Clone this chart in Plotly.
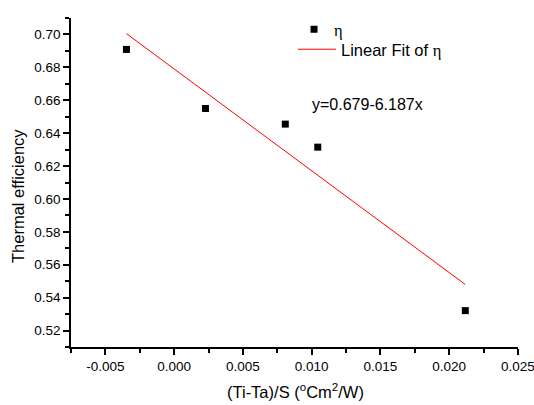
import plotly.graph_objects as go

# data
x_vals = [-0.00347, 0.00228, 0.00808, 0.01044, 0.02117]
eta_vals = [0.6909, 0.6550, 0.6455, 0.6315, 0.5321]
fit_x = [-0.00347, 0.02117]
fit_y = [0.7005, 0.5480]
equation_text = "y=0.679-6.187x"
x_tick_vals = [-0.005, 0.0, 0.005, 0.010, 0.015, 0.020, 0.025]
x_tick_text = ["-0.005", "0.000", "0.005", "0.010", "0.015", "0.020", "0.025"]

FONT = "Liberation Sans, Arial, sans-serif"
ETA = '<span style="font-family:Liberation Serif, Times New Roman, serif">η</span>'

fig = go.Figure()
fig.add_trace(go.Scatter(
    x=x_vals, y=eta_vals, mode="markers", name=ETA, legend="legend",
    marker=dict(symbol="square", size=7, color="black"),
))
fig.add_trace(go.Scatter(
    x=fit_x, y=fit_y, mode="lines", name="Linear Fit of " + ETA, legend="legend2",
    line=dict(color="red", width=1),
))

axis_common = dict(
    showgrid=False, zeroline=False, showline=True, linecolor="black", linewidth=1.5,
    ticks="outside", ticklen=6, tickwidth=1.5, tickcolor="black",
    tickfont=dict(family=FONT, size=13.5, color="black"),
    mirror=False, ticklabeloverflow="allow", automargin=False,
)
fig.update_xaxes(
    range=[-0.007501, 0.025001], tickmode="array", tickvals=x_tick_vals, ticktext=x_tick_text,
    minor=dict(ticks="outside", ticklen=4, tickwidth=1.5, tickcolor="black", dtick=0.0025, tick0=0),
    **axis_common,
)
fig.update_yaxes(
    range=[0.50999, 0.71001], tick0=0.5, dtick=0.02, tickformat=".2f",
    minor=dict(ticks="outside", ticklen=4, tickwidth=1.5, tickcolor="black", dtick=0.01, tick0=0.5),
    **axis_common,
)

fig.add_annotation(
    x=0.0099, y=0.6572, xref="x", yref="y", xanchor="left", yanchor="middle",
    text=equation_text, showarrow=False, font=dict(family=FONT, size=16, color="black"),
)
fig.add_annotation(
    x=-0.1186, y=0.459, xref="paper", yref="paper", xanchor="center", yanchor="middle",
    text="Thermal efficiency", textangle=-90, showarrow=False,
    font=dict(family=FONT, size=16.5, color="black"),
)
fig.add_annotation(
    x=0.503, y=-0.1337, xref="paper", yref="paper", xanchor="center", yanchor="middle",
    text="(Ti-Ta)/S (<sup>o</sup>Cm<sup>2</sup>/W)", showarrow=False,
    font=dict(family=FONT, size=16.5, color="black"),
)

legend_common = dict(
    xanchor="left", yanchor="top", bgcolor="rgba(0,0,0,0)", borderwidth=0,
    xref="container", yref="container",
    font=dict(family=FONT, size=16.5, color="black"),
)
fig.update_layout(
    width=534, height=405,
    margin=dict(l=71, r=16, t=18, b=58, autoexpand=False),
    paper_bgcolor="white", plot_bgcolor="white",
    showlegend=True,
    legend=dict(x=0.5506, y=0.9703, **legend_common),
    legend2=dict(x=0.5486, y=0.9210, itemwidth=38, **legend_common),
)

fig.write_html("out.html", config={"displayModeBar": False},
               post_script="document.body.style.margin='0';")
